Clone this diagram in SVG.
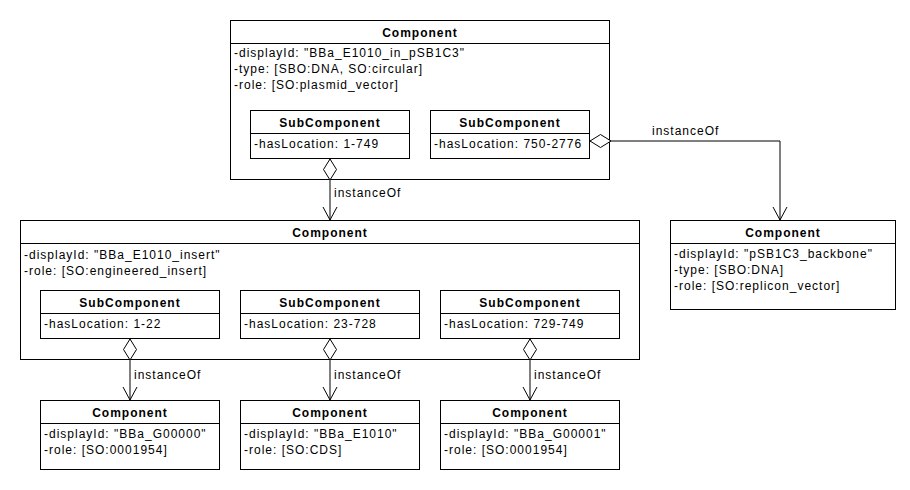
<svg xmlns="http://www.w3.org/2000/svg" width="910" height="490" viewBox="0 0 910 490">
<style>
.box{fill:#fff;stroke:#000;stroke-width:1}
.sep{stroke:#000;stroke-width:1}
text{font-family:"Liberation Sans",Arial,Helvetica,sans-serif;font-size:12px;letter-spacing:1px;fill:#000}
.h{font-weight:bold;text-anchor:middle}
.edge{fill:none;stroke:#000;stroke-width:1}
</style>
<defs>
<marker id="arrow" markerUnits="userSpaceOnUse" viewBox="-15 -9 17 18" refX="0" refY="0" markerWidth="17" markerHeight="18" orient="auto">
<path d="M-13,-7 L0,0 L-13,7" fill="none" stroke="#000" stroke-width="1"/>
</marker>
<marker id="diamond" markerUnits="userSpaceOnUse" viewBox="-1 -8 24 16" refX="0" refY="0" markerWidth="24" markerHeight="16" orient="auto">
<path d="M0,0 L10.5,-6.5 L21,0 L10.5,6.5 Z" fill="#fff" stroke="#000" stroke-width="1"/>
</marker>
</defs>
<rect width="910" height="490" fill="#fff"/>

<g id="plasmid">
<rect class="box" x="230.5" y="20.5" width="379" height="159"/>
<line class="sep" x1="230.5" y1="43.5" x2="609.5" y2="43.5"/>
<text class="h" x="420" y="37">Component</text>
<text x="234" y="57">-displayId: "BBa_E1010_in_pSB1C3"</text>
<text x="234" y="73">-type: [SBO:DNA, SO:circular]</text>
<text x="234" y="89">-role: [SO:plasmid_vector]</text>
</g>
<g id="plasmid-sub1">
<rect class="box" x="250.5" y="110.5" width="159" height="48"/>
<line class="sep" x1="250.5" y1="133.5" x2="409.5" y2="133.5"/>
<text class="h" x="330" y="127">SubComponent</text>
<text x="254" y="148">-hasLocation: 1-749</text>
</g>
<g id="plasmid-sub2">
<rect class="box" x="430.5" y="110.5" width="159" height="48"/>
<line class="sep" x1="430.5" y1="133.5" x2="589.5" y2="133.5"/>
<text class="h" x="510" y="127">SubComponent</text>
<text x="434" y="148">-hasLocation: 750-2776</text>
</g>

<g id="insert">
<rect class="box" x="20.5" y="220.5" width="619" height="139"/>
<line class="sep" x1="20.5" y1="243.5" x2="639.5" y2="243.5"/>
<text class="h" x="330" y="237">Component</text>
<text x="24" y="259">-displayId: "BBa_E1010_insert"</text>
<text x="24" y="275">-role: [SO:engineered_insert]</text>
</g>
<g id="insert-sub1">
<rect class="box" x="40.5" y="290.5" width="179" height="48"/>
<line class="sep" x1="40.5" y1="313.5" x2="219.5" y2="313.5"/>
<text class="h" x="130" y="307">SubComponent</text>
<text x="44" y="328">-hasLocation: 1-22</text>
</g>
<g id="insert-sub2">
<rect class="box" x="240.5" y="290.5" width="179" height="48"/>
<line class="sep" x1="240.5" y1="313.5" x2="419.5" y2="313.5"/>
<text class="h" x="330" y="307">SubComponent</text>
<text x="244" y="328">-hasLocation: 23-728</text>
</g>
<g id="insert-sub3">
<rect class="box" x="440.5" y="290.5" width="179" height="48"/>
<line class="sep" x1="440.5" y1="313.5" x2="619.5" y2="313.5"/>
<text class="h" x="530" y="307">SubComponent</text>
<text x="444" y="328">-hasLocation: 729-749</text>
</g>

<g id="backbone">
<rect class="box" x="670.5" y="220.5" width="225" height="89"/>
<line class="sep" x1="670.5" y1="243.5" x2="895.5" y2="243.5"/>
<text class="h" x="783" y="237">Component</text>
<text x="674" y="258">-displayId: "pSB1C3_backbone"</text>
<text x="674" y="274">-type: [SBO:DNA]</text>
<text x="674" y="290">-role: [SO:replicon_vector]</text>
</g>

<g id="g00000">
<rect class="box" x="40.5" y="400.5" width="179" height="69"/>
<line class="sep" x1="40.5" y1="423.5" x2="219.5" y2="423.5"/>
<text class="h" x="130" y="417">Component</text>
<text x="44" y="438">-displayId: "BBa_G00000"</text>
<text x="44" y="454">-role: [SO:0001954]</text>
</g>
<g id="e1010">
<rect class="box" x="240.5" y="400.5" width="179" height="69"/>
<line class="sep" x1="240.5" y1="423.5" x2="419.5" y2="423.5"/>
<text class="h" x="330" y="417">Component</text>
<text x="244" y="438">-displayId: "BBa_E1010"</text>
<text x="244" y="454">-role: [SO:CDS]</text>
</g>
<g id="g00001">
<rect class="box" x="440.5" y="400.5" width="179" height="69"/>
<line class="sep" x1="440.5" y1="423.5" x2="619.5" y2="423.5"/>
<text class="h" x="530" y="417">Component</text>
<text x="444" y="438">-displayId: "BBa_G00001"</text>
<text x="444" y="454">-role: [SO:0001954]</text>
</g>

<g id="connectors">
<path class="edge" d="M330,159 V220" marker-start="url(#diamond)" marker-end="url(#arrow)"/>
<text x="334" y="197">instanceOf</text>
<path class="edge" d="M590,141 H780 V220" marker-start="url(#diamond)" marker-end="url(#arrow)"/>
<text x="652" y="135">instanceOf</text>
<path class="edge" d="M130,339 V400" marker-start="url(#diamond)" marker-end="url(#arrow)"/>
<text x="134" y="379">instanceOf</text>
<path class="edge" d="M330,339 V400" marker-start="url(#diamond)" marker-end="url(#arrow)"/>
<text x="334" y="379">instanceOf</text>
<path class="edge" d="M530,339 V400" marker-start="url(#diamond)" marker-end="url(#arrow)"/>
<text x="534" y="379">instanceOf</text>
</g>
</svg>
